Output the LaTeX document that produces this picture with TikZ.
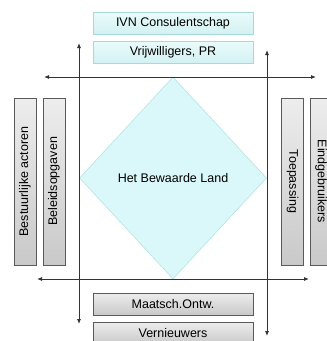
\documentclass[tikz,border=0pt]{standalone}
\usepackage{fontspec}
\setmainfont{Liberation Sans}
\usetikzlibrary{shapes.geometric,arrows.meta}
\definecolor{cyanrand}{HTML}{A9D8DA}
\definecolor{cyanlicht}{HTML}{EAFBFB}
\definecolor{cyanvol}{HTML}{D2F1F2}
\definecolor{grijsrand}{HTML}{5A5A5A}
\definecolor{grijslicht}{HTML}{EDEDED}
\definecolor{grijsvol}{HTML}{C9C9C9}
\definecolor{ruitvol}{HTML}{DAF8F9}
\definecolor{ruitrand}{HTML}{B5E3E5}
\tikzset{
  partij/.style={draw=cyanrand, line width=0.8pt, top color=cyanlicht, bottom color=cyanvol,
    minimum width=160pt, minimum height=22pt, inner sep=0pt, font=\fontsize{12.5}{14}\selectfont},
  actor/.style={draw=grijsrand, line width=0.8pt, top color=grijslicht, bottom color=grijsvol,
    minimum width=160pt, minimum height=22pt, inner sep=0pt, font=\fontsize{12.5}{14}\selectfont},
  zijactor/.style={actor, minimum width=167pt},
  as/.style={{Latex[length=5pt,width=4pt]}-{Latex[length=5pt,width=4pt]}, line width=0.8pt, black!80}
}
\begin{document}
\begin{tikzpicture}[x=1pt,y=-1pt]
                \useasboundingbox (0,0) rectangle (327,341);
                \clip (0,0) rectangle (327,341);

                % Diamond in the middle
                \node[diamond, draw=ruitrand, fill=ruitvol, line width=0.6pt, inner sep=0pt,
                  minimum width=187pt, minimum height=202pt, aspect=0.93,
                  font=\fontsize{12.5}{14}\selectfont] (land) at (173,178) {Het Bewaarde Land};

                % Boxes at the top
                \node[partij] (ivn) at (173,23.5) {IVN Consulentschap};
                \node[partij] (vrijw) at (173,52.5) {Vrijwilligers, PR};

                % Boxes at the bottom
                \node[actor] (maatsch) at (173,304) {Maatsch.Ontw.};
                \node[actor] (vernieuw) at (173,333) {Vernieuwers};

                % Boxes on the left
                \node[zijactor, rotate=90] (bestuur) at (25,181.5) {Bestuurlijke actoren};
                \node[zijactor, rotate=90] (beleid) at (54,181.5) {Beleidsopgaven};

                % Boxes on the right
                \node[zijactor, rotate=-90] (toep) at (292.5,181.5) {Toepassing};
                \node[zijactor, rotate=-90] (eind) at (321,181.5) {Eindgebruikers};

                % Axes
                \coordinate (linksboven) at (79,43);
                \coordinate (linksonder) at (79,324);
                \coordinate (rechtsboven) at (267,50);
                \coordinate (rechtsonder) at (267,336);
                \coordinate (bovenlinks) at (44,77);
                \coordinate (bovenrechts) at (316,77);
                \coordinate (onderlinks) at (37,279);
                \coordinate (onderrechts) at (309,279);
                \draw[as] (linksboven) -- (linksonder);
                \draw[as] (rechtsboven) -- (rechtsonder);
                \draw[as] (bovenlinks) -- (bovenrechts);
                \draw[as] (onderlinks) -- (onderrechts);
            \end{tikzpicture}
\end{document}
